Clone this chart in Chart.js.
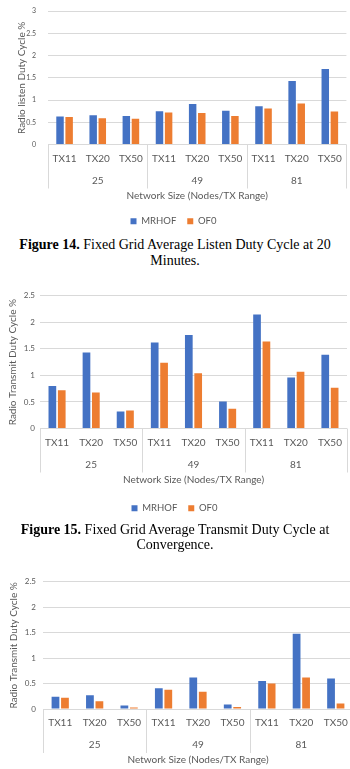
<!DOCTYPE html>
<html><head><meta charset="utf-8">
<script src="https://cdn.jsdelivr.net/npm/chart.js@4.4.0/dist/chart.umd.min.js"></script>
<style>
html,body{margin:0;padding:0;background:#fff;}
body{width:350px;height:769px;overflow:hidden;position:relative;}
canvas{position:absolute;left:0;}
.cap{position:absolute;left:0;width:350px;text-align:center;font-family:"Liberation Serif","Times New Roman",serif;font-size:14px;color:#000;white-space:nowrap;}
.cap b{font-weight:bold;}
</style></head>
<body>
<canvas id="c1"></canvas>
<canvas id="c2"></canvas>
<canvas id="c3"></canvas>
<div class="cap" style="top:237px;line-height:16px"><b>Figure 14.</b> Fixed Grid Average Listen Duty Cycle at 20<br>Minutes.</div>
<div class="cap" style="top:522px;line-height:15px"><b>Figure 15.</b> Fixed Grid Average Transmit Duty Cycle at<br>Convergence.</div>
<script>
// ---- data ----
const txLabels = ['TX11','TX20','TX50','TX11','TX20','TX50','TX11','TX20','TX50'];
const networkSizes = ['25','49','81'];
const seriesNames = ['MRHOF','OF0'];
const xAxisTitle = 'Network Size (Nodes/TX Range)';

const listenMRHOF = [0.63, 0.66, 0.64, 0.75, 0.91, 0.76, 0.86, 1.43, 1.70];
const listenOF0   = [0.62, 0.59, 0.58, 0.72, 0.71, 0.64, 0.81, 0.92, 0.74];

const transmitConvMRHOF = [0.80, 1.43, 0.32, 1.62, 1.76, 0.51, 2.15, 0.96, 1.39];
const transmitConvOF0   = [0.72, 0.68, 0.34, 1.24, 1.04, 0.37, 1.64, 1.07, 0.77];

const transmit3MRHOF = [0.24, 0.27, 0.07, 0.41, 0.62, 0.09, 0.55, 1.48, 0.60];
const transmit3OF0   = [0.22, 0.15, 0.03, 0.38, 0.34, 0.04, 0.50, 0.62, 0.11];

// ---- styling ----
const BLUE = '#4472C4', ORANGE = '#ED7D31', GRID = '#d9d9d9', TXT = '#595959';
const FONT = 'Lato, "Liberation Sans", sans-serif';

const separatorPlugin = {
  id: 'groupSeparators',
  afterDraw(chart) {
    const x = chart.scales.x, x2 = chart.scales.x2, ctx = chart.ctx;
    const n = x.ticks.length, groups = x2.ticks.length, per = n / groups;
    ctx.save();
    ctx.strokeStyle = GRID; ctx.lineWidth = 1;
    for (let g = 0; g <= groups; g++) {
      const i = g * per;
      let px;
      if (i === 0) px = x.left;
      else if (i >= n) px = x.right;
      else px = (x.getPixelForValue(i - 1) + x.getPixelForValue(i)) / 2;
      px = Math.round(px) + 0.5;
      ctx.beginPath();
      ctx.moveTo(px, chart.chartArea.bottom);
      ctx.lineTo(px, x2.top + 20);
      ctx.stroke();
    }
    ctx.restore();
  }
};

function makeChart(id, cfg) {
  const cv = document.getElementById(id);
  cv.width = cfg.w; cv.height = cfg.h;
  cv.style.width = cfg.w + 'px'; cv.style.height = cfg.h + 'px';
  cv.style.top = cfg.top + 'px';
  return new Chart(cv, {
    type: 'bar',
    data: {
      labels: txLabels,
      datasets: [
        { label: seriesNames[0], data: cfg.a, backgroundColor: BLUE, xAxisID: 'x', categoryPercentage: 0.55, barPercentage: 0.82 },
        { label: seriesNames[1], data: cfg.b, backgroundColor: ORANGE, xAxisID: 'x', categoryPercentage: 0.55, barPercentage: 0.82 }
      ]
    },
    options: {
      responsive: false, animation: false, maintainAspectRatio: false,
      layout: { padding: { top: 8, right: cfg.padR, left: 0, bottom: 0 } },
      plugins: {
        tooltip: { enabled: false },
        legend: {
          display: cfg.legend, position: 'bottom',
          labels: { boxWidth: 6, boxHeight: 6, padding: 11, color: TXT, font: { family: FONT, size: 9.5 } }
        }
      },
      scales: {
        y: {
          min: 0, max: cfg.max, weight: 1,
          ticks: { stepSize: 0.5, color: TXT, padding: cfg.tickPad, font: { family: FONT, size: cfg.tickSize },
                   callback: v => String(Math.round(v * 10) / 10) },
          grid: { color: GRID, drawTicks: false },
          border: { display: false },
          title: { display: true, text: cfg.yTitle, color: TXT, font: { family: FONT, size: 10 }, padding: { top: cfg.titlePad, bottom: 0 } },
          afterFit: s => { s.width = cfg.yW; }
        },
        x: {
          type: 'category', position: 'bottom', weight: 1, offset: true,
          grid: { display: false, drawTicks: false },
          border: { display: false },
          ticks: { color: TXT, padding: 8, maxRotation: 0, autoSkip: false, font: { family: FONT, size: 10 } },
          afterFit: s => { s.height = 24; }
        },
        x2: {
          type: 'category', position: 'bottom', weight: 2, offset: true, labels: networkSizes,
          grid: { display: false, drawTicks: false },
          border: { display: false },
          ticks: { color: TXT, padding: 6, maxRotation: 0, autoSkip: false, font: { family: FONT, size: 10 } },
          title: { display: true, text: xAxisTitle, color: TXT, font: { family: FONT, size: 10 }, padding: { top: 0, bottom: cfg.x2PadB } },
          afterFit: s => { s.height = 33 + cfg.x2PadB; }
        }
      }
    },
    plugins: [separatorPlugin]
  });
}

makeChart('c1', { w: 350, h: 241, top: -5, padR: 3, max: 3, a: listenMRHOF, b: listenOF0, tickSize: 7,
  yTitle: 'Radio listen Duty Cycle %', yW: 48, tickPad: 12, titlePad: 16, legend: true, x2PadB: 4 });
makeChart('c2', { w: 350, h: 237, top: 286, padR: 1, max: 2.5, a: transmitConvMRHOF, b: transmitConvOF0, tickSize: 8,
  yTitle: 'Radio Transmit Duty Cycle %', yW: 40, tickPad: 5, titlePad: 6.5, legend: true, x2PadB: 7 });
makeChart('c3', { w: 356, h: 196, top: 570, padR: 3, max: 2.5, a: transmit3MRHOF, b: transmit3OF0, tickSize: 8,
  yTitle: 'Radio Transmit Duty Cycle %', yW: 43, tickPad: 7, titlePad: 7.5, legend: false, x2PadB: 0 });
</script>
</body></html>
